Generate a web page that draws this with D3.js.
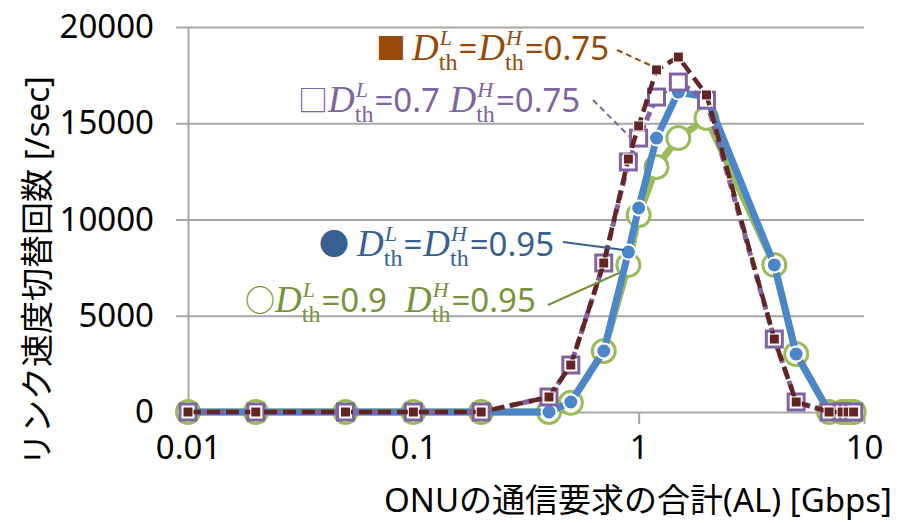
<!DOCTYPE html>
<html>
<head>
<meta charset="utf-8">
<script src="https://cdn.jsdelivr.net/npm/d3@7"></script>
<style>
  body { margin: 0; background: #fff; }
  svg { display: block; }
</style>
</head>
<body>
<svg id="chart" width="901" height="523"></svg>
<script>
// Total ONU traffic demand AL [Gbps] (log axis)
const loads = [0.01, 0.02, 0.05, 0.1, 0.2, 0.4, 0.5, 0.7, 0.9, 1.0, 1.2, 1.5, 2.0, 4.0, 5.0, 7, 8, 8.5, 9];

// Link-rate switching count [/sec] for each threshold setting
const seriesL090H095 = [0, 0, 0, 0, 0, 0, 480, 3170, 7640, 10230, 12730, 14230, 15270, 7640, 3010, 0, 0, 0, 0];
const seriesL095H095 = [0, 0, 0, 0, 0, 0, 520, 3170, 8310, 10600, 14230, 16620, 16360, 7640, 3010, 0, 0, 0, 0];
const seriesL070H075 = [0, 0, 0, 0, 0, 780, 2440, 7740, 12990, 14230, 16360, 17140, 16200, 3790, 520, 0, 0, 0, 0];
const seriesL075H075 = [0, 0, 0, 0, 0, 780, 2440, 7740, 13140, 14860, 17770, 18440, 16470, 3790, 520, 0, 0, 0, 0];

const xTickValues = [0.01, 0.1, 1, 10];
const xTickLabels = ["0.01", "0.1", "1", "10"];
const yTickValues = [0, 5000, 10000, 15000, 20000];

const xTitle = "ONUの通信要求の合計(AL) [Gbps]";
const yTitle = "リンク速度切替回数 [/sec]";

const SANS = "'Noto Sans', 'Noto Sans CJK JP', sans-serif";
const SERIF = "'Liberation Serif', 'DejaVu Serif', serif";
const GRID = "#a6a6a6";

const svg = d3.select("#chart");

const x = d3.scaleLog().domain([0.01, 10]).range([188, 864]);
const y = d3.scaleLinear().domain([0, 20000]).range([412, 27]);

// horizontal gridlines
const grid = svg.append("g")
  .attr("transform", `translate(${x.range()[0]},0)`)
  .call(d3.axisLeft(y).tickValues(yTickValues.slice(1)).tickSize(-(x.range()[1] - x.range()[0])).tickFormat(""));
grid.select(".domain").remove();
grid.selectAll(".tick line").attr("stroke", GRID).attr("stroke-width", 2);

// y axis
const yAxis = svg.append("g")
  .attr("transform", `translate(${x.range()[0]},0)`)
  .call(d3.axisLeft(y).tickValues(yTickValues).tickSize(12).tickSizeOuter(0).tickPadding(22).tickFormat(d3.format("d")));
yAxis.select(".domain").attr("stroke", GRID).attr("stroke-width", 2);
yAxis.selectAll(".tick line").attr("stroke", GRID).attr("stroke-width", 2);
yAxis.selectAll(".tick text").attr("font-family", SANS).attr("font-size", 33).attr("fill", "#000");

// x axis
const xAxis = svg.append("g")
  .attr("transform", `translate(0,${y(0)})`)
  .call(d3.axisBottom(x).tickValues(xTickValues).tickSize(12).tickSizeOuter(0).tickPadding(12)
    .tickFormat((d, i) => xTickLabels[i]));
xAxis.select(".domain").attr("stroke", GRID).attr("stroke-width", 2);
xAxis.selectAll(".tick line").attr("stroke", GRID).attr("stroke-width", 2);
xAxis.selectAll(".tick text").attr("font-family", SANS).attr("font-size", 33).attr("fill", "#000");

// axis titles
svg.append("text")
  .attr("x", 638).attr("y", 512)
  .attr("text-anchor", "middle")
  .attr("font-family", SANS).attr("font-size", 33).attr("fill", "#000")
  .text(xTitle);

svg.append("text")
  .attr("transform", "translate(49,271) rotate(-90)")
  .attr("text-anchor", "middle")
  .attr("font-family", SANS).attr("font-size", 33).attr("fill", "#000")
  .text(yTitle);

// series
const line = d3.line().x(d => x(d[0])).y(d => y(d[1]));
const pts = vals => loads.map((l, i) => [l, vals[i]]);

const plot = svg.append("g");

// D_th^L=0.9, D_th^H=0.95 : green line, open circles
const gG = plot.append("g");
gG.append("path").datum(pts(seriesL090H095)).attr("d", line)
  .attr("fill", "none").attr("stroke", "#9bbb59").attr("stroke-width", 7).attr("stroke-linejoin", "round");
gG.selectAll("circle").data(pts(seriesL090H095)).join("circle")
  .attr("cx", d => x(d[0])).attr("cy", d => y(d[1])).attr("r", 11.5)
  .attr("fill", "#fff").attr("stroke", "#9bbb59").attr("stroke-width", 3);

// D_th^L=D_th^H=0.95 : blue line, filled circles
const gB = plot.append("g");
gB.append("path").datum(pts(seriesL095H095)).attr("d", line)
  .attr("fill", "none").attr("stroke", "#4a86c8").attr("stroke-width", 7).attr("stroke-linejoin", "round");
gB.selectAll("circle").data(pts(seriesL095H095)).join("circle")
  .attr("cx", d => x(d[0])).attr("cy", d => y(d[1])).attr("r", 7.5)
  .attr("fill", "#4a86c8").attr("stroke", "#fff").attr("stroke-width", 2);

// D_th^L=0.7, D_th^H=0.75 : purple dashed line, open squares
const gP = plot.append("g");
gP.append("path").datum(pts(seriesL070H075)).attr("d", line)
  .attr("fill", "none").attr("stroke", "#8064a2").attr("stroke-width", 5).attr("stroke-dasharray", "9,5");
gP.selectAll("rect").data(pts(seriesL070H075)).join("rect")
  .attr("x", d => x(d[0]) - 8).attr("y", d => y(d[1]) - 8).attr("width", 16).attr("height", 16)
  .attr("fill", "#fff").attr("stroke", "#8064a2").attr("stroke-width", 3);

// D_th^L=D_th^H=0.75 : dark red dashed line, small filled squares
const gR = plot.append("g");
gR.append("path").datum(pts(seriesL075H075)).attr("d", line)
  .attr("fill", "none").attr("stroke", "#632523").attr("stroke-width", 4.5).attr("stroke-dasharray", "13,6");
gR.selectAll("rect").data(pts(seriesL075H075)).join("rect")
  .attr("x", d => x(d[0]) - 5).attr("y", d => y(d[1]) - 5).attr("width", 10).attr("height", 10)
  .attr("fill", "#632523").attr("stroke", "#fff").attr("stroke-width", 1);

// annotation labels: symbol, D_th^L / D_th^H expressions, leader line
function mathLabel(x0, base, color, parts) {
  const g = svg.append("g").attr("fill", color);
  let cx = x0;
  for (const p of parts) {
    if (p.sym) {
      const t = g.append("text").attr("x", cx).attr("y", base - 1)
        .attr("font-family", "'Noto Sans CJK JP', sans-serif").attr("font-size", p.size || 30).text(p.sym);
      cx += t.node().getComputedTextLength() + (p.gap || 0);
    } else if (p.D) {
      const t = g.append("text").attr("x", cx).attr("y", base)
        .attr("font-family", SERIF).attr("font-style", "italic").attr("font-size", 37).text("D");
      cx += t.node().getComputedTextLength();
      const sup = g.append("text").attr("x", cx + 1).attr("y", base - 15)
        .attr("font-family", SERIF).attr("font-style", "italic").attr("font-size", 22).text(p.D);
      const sub = g.append("text").attr("x", cx).attr("y", base + 10)
        .attr("font-family", SERIF).attr("font-size", 24).text("th");
      cx += Math.max(sup.node().getComputedTextLength() + 1, sub.node().getComputedTextLength()) + 1;
    } else {
      const t = g.append("text").attr("x", cx).attr("y", base).attr("xml:space", "preserve")
        .attr("font-family", SANS).attr("font-size", 33).text(p.t);
      cx += t.node().getComputedTextLength() + 1;
    }
  }
  return cx;
}

function leader(x1, y1, x2, y2, color, dashed, w) {
  svg.append("line").attr("x1", x1).attr("y1", y1).attr("x2", x2).attr("y2", y2)
    .attr("stroke", color).attr("stroke-width", w || 2)
    .attr("stroke-dasharray", dashed ? "6,4" : null);
}

mathLabel(376, 60, "#984807", [{sym: "■", gap: 6}, {D: "L"}, {t: "="}, {D: "H"}, {t: "=0.75"}]);
leader(617, 50, 652, 66, "#984807", true, 2);

mathLabel(298, 112, "#8064a2", [{sym: "□", gap: 0}, {D: "L"}, {t: "=0.7 "}, {D: "H"}, {t: "=0.75"}]);
leader(593, 100, 630, 137, "#8064a2", true, 2);

mathLabel(319, 256, "#376092", [{sym: "●", gap: 8}, {D: "L"}, {t: "="}, {D: "H"}, {t: "=0.95"}]);
leader(563, 242, 624, 250, "#376092", false, 2);

mathLabel(245, 312, "#77933c", [{sym: "○", gap: 0}, {D: "L"}, {t: "=0.9  "}, {D: "H"}, {t: "=0.95"}]);
leader(548, 305, 619, 273, "#77933c", false, 2);
</script>
</body>
</html>
